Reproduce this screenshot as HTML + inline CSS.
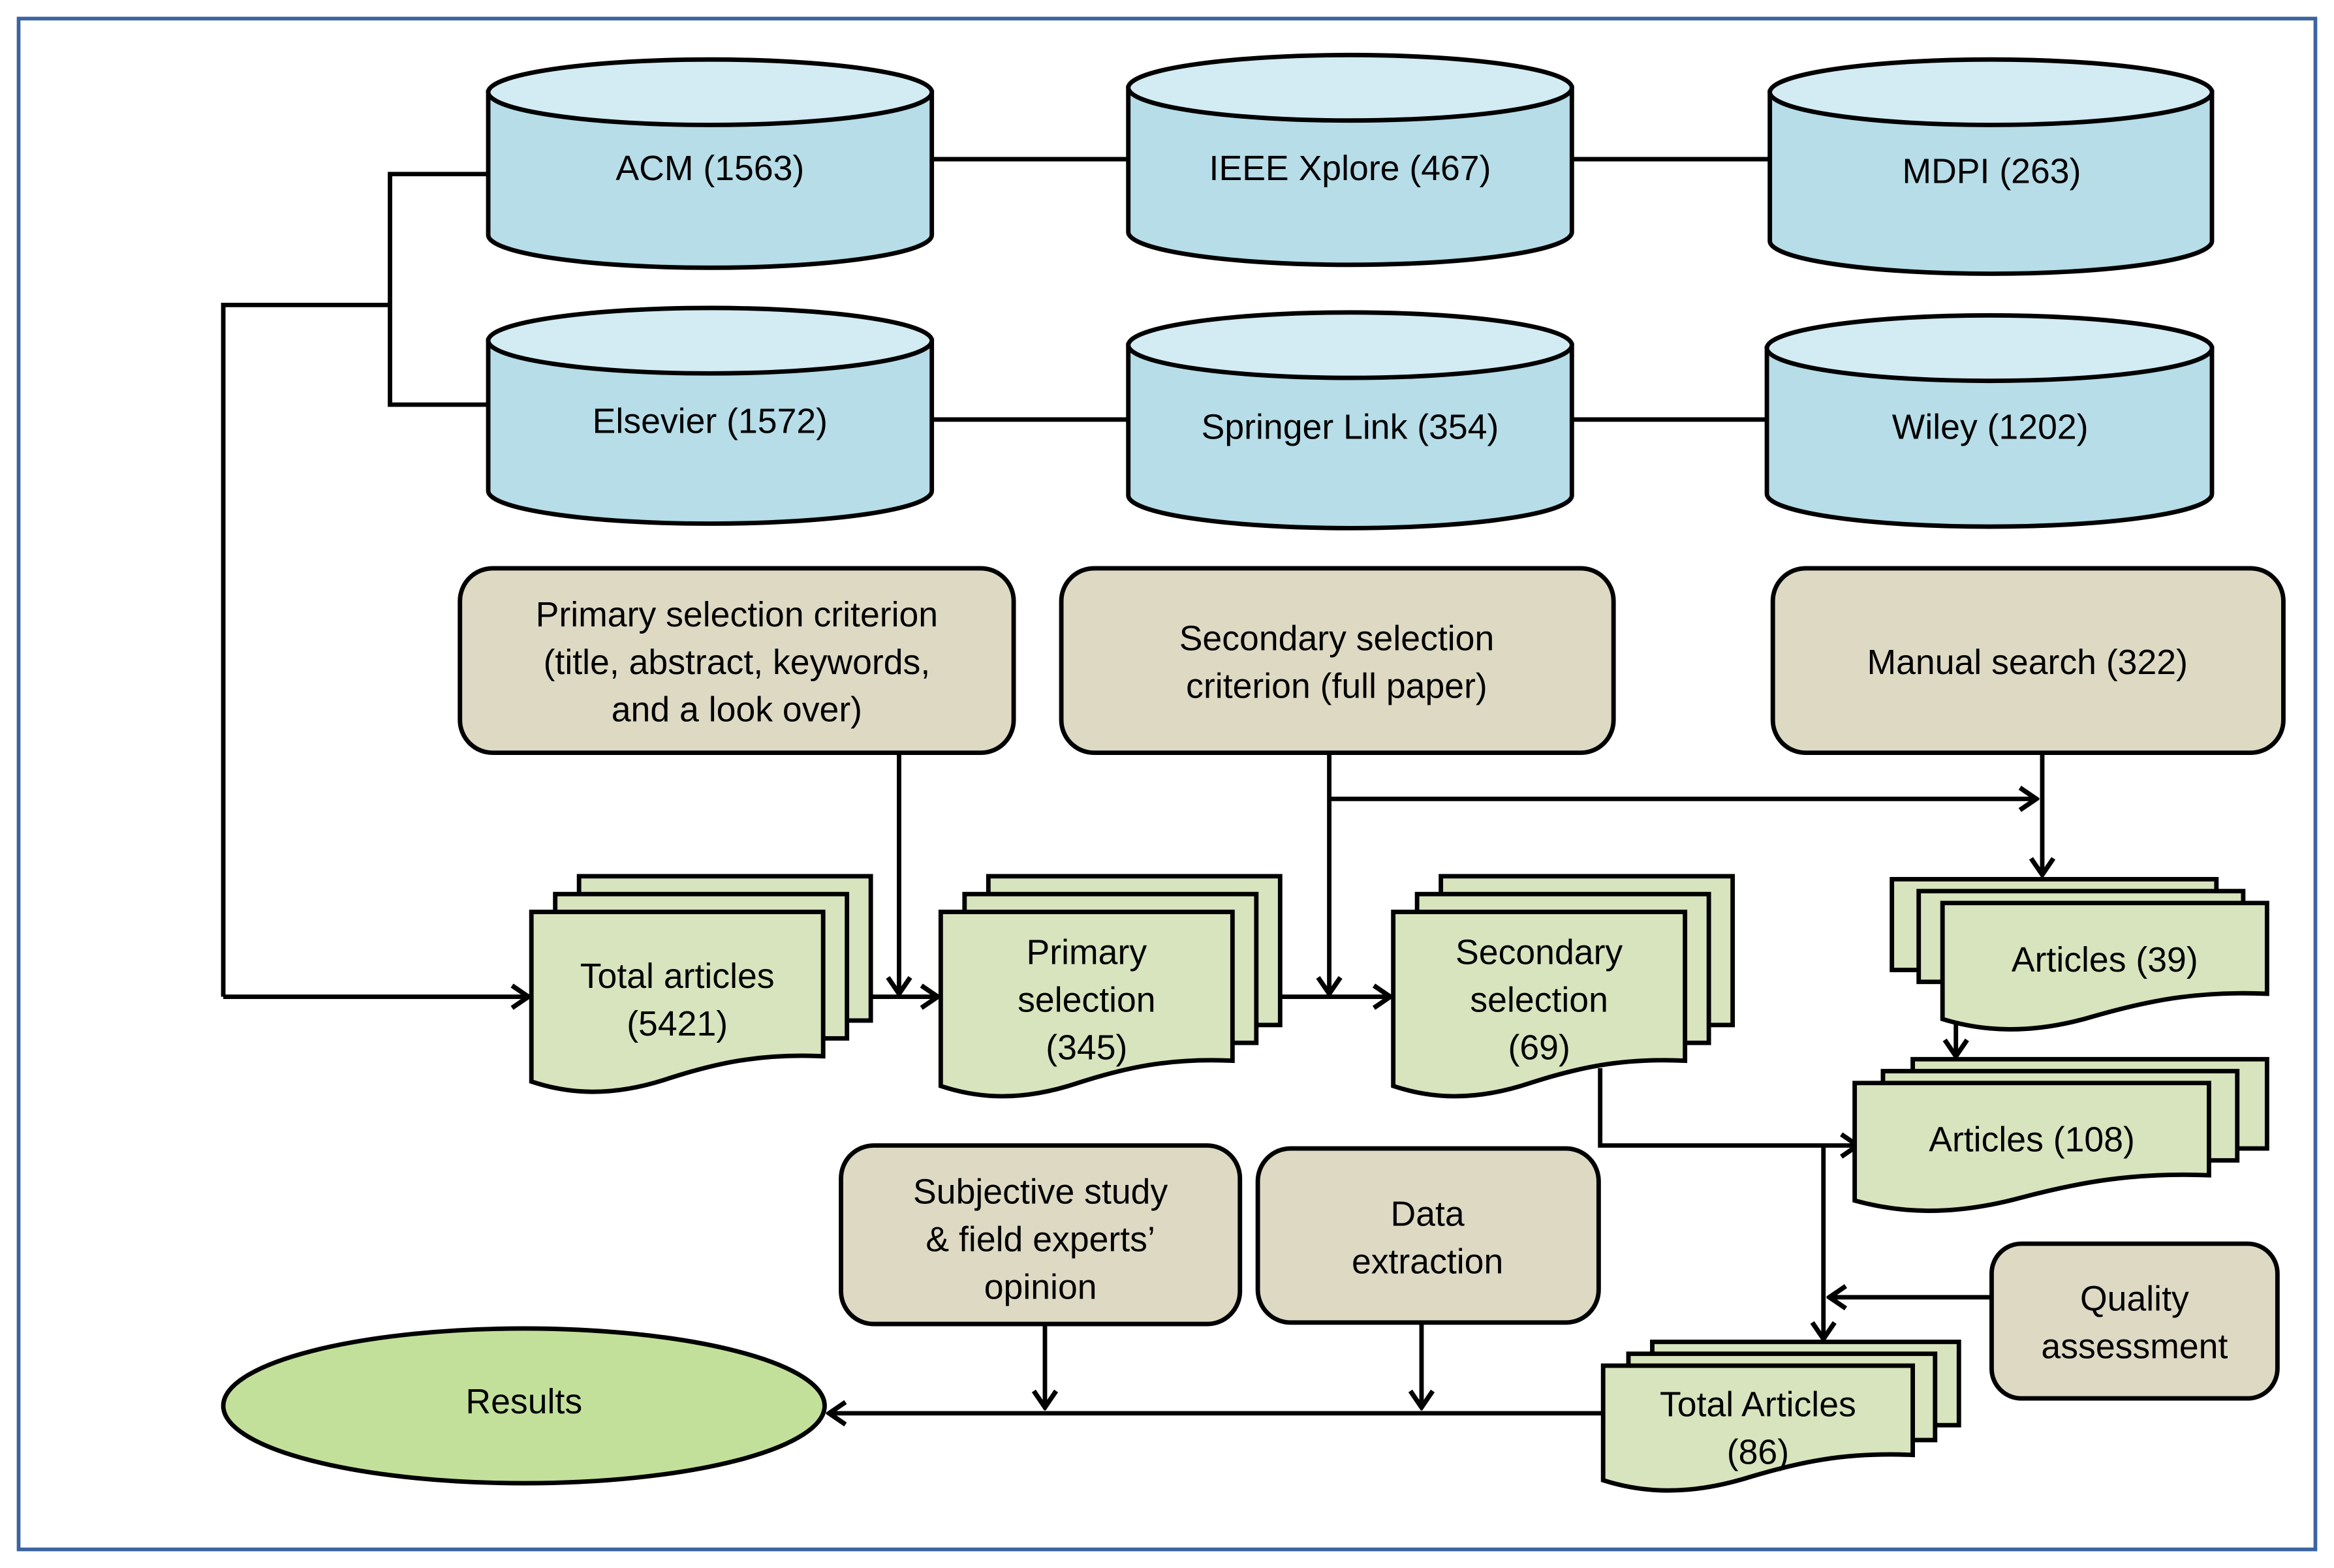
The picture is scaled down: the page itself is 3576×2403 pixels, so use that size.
<!DOCTYPE html>
<html><head><meta charset="utf-8"><style>html,body{margin:0;padding:0;background:#fff}svg{display:block}</style></head>
<body>
<svg width="3576" height="2403" viewBox="0 0 1568 1054" preserveAspectRatio="none" xmlns="http://www.w3.org/2000/svg" font-family="Liberation Sans, sans-serif" font-size="23.5" text-anchor="middle">
<defs>
<marker id="a" viewBox="0 0 16 18" refX="14" refY="9" markerWidth="16" markerHeight="18" markerUnits="userSpaceOnUse" orient="auto"><polyline points="3,1.5 14,9 3,16.5" fill="none" stroke="#000" stroke-width="3.2"/></marker>
</defs>
<rect x="12.5" y="12.5" width="1543" height="1029" fill="#fff" stroke="#3b64a0" stroke-width="2.5"/>
<g stroke="#000" stroke-width="3" fill="none">
<path d="M626,107H758M1056,107H1189M626,282H758M1056,282H1187"/>
<path d="M328,117H262V272H328M262,205H150V670"/>
<path d="M150,670H355" marker-end="url(#a)"/>
<path d="M604,506V668" marker-end="url(#a)"/>
<path d="M585,670H630" marker-end="url(#a)"/>
<path d="M893,506V668" marker-end="url(#a)"/>
<path d="M860,670H934" marker-end="url(#a)"/>
<path d="M893,537H1368" marker-end="url(#a)"/>
<path d="M1372,506V588" marker-end="url(#a)"/>
<path d="M1314,668V710" marker-end="url(#a)"/>
<path d="M1075,718V770H1248" marker-end="url(#a)"/>
<path d="M1225,770V900" marker-end="url(#a)"/>
<path d="M1338,872H1229" marker-end="url(#a)"/>
<path d="M1077,950H557" marker-end="url(#a)"/>
<path d="M702,890V946" marker-end="url(#a)"/>
<path d="M955,889V946" marker-end="url(#a)"/>
</g>
<g stroke="#000" stroke-width="3">
<path d="M328,62V158A149,22 0 0 0 626,158V62Z" fill="#b6dde8"/><ellipse cx="477" cy="62" rx="149" ry="22" fill="#d3ebf2"/>
<path d="M758,59V156A149,22 0 0 0 1056,156V59Z" fill="#b6dde8"/><ellipse cx="907" cy="59" rx="149" ry="22" fill="#d3ebf2"/>
<path d="M1189,62V162A148.5,22 0 0 0 1486,162V62Z" fill="#b6dde8"/><ellipse cx="1337.5" cy="62" rx="148.5" ry="22" fill="#d3ebf2"/>
<path d="M328,229V330A149,22 0 0 0 626,330V229Z" fill="#b6dde8"/><ellipse cx="477" cy="229" rx="149" ry="22" fill="#d3ebf2"/>
<path d="M758,232V333A149,22 0 0 0 1056,333V232Z" fill="#b6dde8"/><ellipse cx="907" cy="232" rx="149" ry="22" fill="#d3ebf2"/>
<path d="M1187,234V332A149.5,22 0 0 0 1486,332V234Z" fill="#b6dde8"/><ellipse cx="1336.5" cy="234" rx="149.5" ry="22" fill="#d3ebf2"/>
</g>
<g>
<text x="477" y="121">ACM (1563)</text>
<text x="907" y="121">IEEE Xplore (467)</text>
<text x="1338" y="123">MDPI (263)</text>
<text x="477" y="291">Elsevier (1572)</text>
<text x="907" y="295">Springer Link (354)</text>
<text x="1337" y="295">Wiley (1202)</text>
</g>
<g stroke="#000" stroke-width="3" fill="#ddd9c3">
<rect x="309" y="382" width="372" height="124" rx="22"/>
<rect x="713" y="382" width="371" height="124" rx="22"/>
<rect x="1191" y="382" width="343" height="124" rx="22"/>
<rect x="565" y="770" width="268" height="120" rx="22"/>
<rect x="845" y="772" width="229" height="117" rx="22"/>
<rect x="1338" y="836" width="192" height="104" rx="20"/>
</g>
<text x="495" y="421">Primary selection criterion</text>
<text x="495" y="453">(title, abstract, keywords,</text>
<text x="495" y="485">and a look over)</text>
<text x="898" y="437">Secondary selection</text>
<text x="898" y="469">criterion (full paper)</text>
<text x="1362" y="453">Manual search (322)</text>
<text x="699" y="809">Subjective study</text>
<text x="699" y="841">&amp; field experts’</text>
<text x="699" y="873">opinion</text>
<text x="959" y="824">Data</text>
<text x="959" y="856">extraction</text>
<text x="1434" y="881">Quality</text>
<text x="1434" y="913">assessment</text>
<g stroke="#000" stroke-width="3" fill="#d7e4bd">
<rect x="389" y="589" width="196" height="97"/><rect x="373" y="601" width="196" height="97"/>
<path d="M357,613H553V710C510,708 480,715 449,725C410,738 381,735 357,727Z"/>
<rect x="664" y="589" width="196" height="100"/><rect x="648" y="601" width="196" height="100"/>
<path d="M632,613H828V713C785,711 755,718 724,728C685,741 656,738 632,730Z"/>
<rect x="968" y="589" width="196" height="100"/><rect x="952" y="601" width="196" height="100"/>
<path d="M936,613H1132V713C1089,711 1059,718 1028,728C989,741 960,738 936,730Z"/>
<rect x="1271" y="591" width="218" height="61"/><rect x="1289" y="599" width="218" height="61"/>
<path d="M1305,607H1523V668C1475,666 1442,673 1407,683C1364,696 1331,693 1305,685Z"/>
<rect x="1285" y="712" width="238" height="60"/><rect x="1265" y="720" width="238" height="60"/>
<path d="M1246,728H1484V790C1432,788 1396,795 1358,805C1310,818 1275,815 1246,807Z"/>
<rect x="1110" y="902" width="206" height="56"/><rect x="1094" y="910" width="206" height="58"/>
<path d="M1077,918H1285V978C1239,976 1208,983 1175,993C1133,1006 1102,1003 1077,995Z"/>
</g>
<text x="455" y="664">Total articles</text>
<text x="455" y="696">(5421)</text>
<text x="730" y="648">Primary</text>
<text x="730" y="680">selection</text>
<text x="730" y="712">(345)</text>
<text x="1034" y="648">Secondary</text>
<text x="1034" y="680">selection</text>
<text x="1034" y="712">(69)</text>
<text x="1414" y="653">Articles (39)</text>
<text x="1365" y="774">Articles (108)</text>
<text x="1181" y="952">Total Articles</text>
<text x="1181" y="984">(86)</text>
<ellipse cx="352" cy="945" rx="202" ry="52" fill="#c3e09b" stroke="#000" stroke-width="3"/>
<text x="352" y="950">Results</text>
</svg>
</body></html>
